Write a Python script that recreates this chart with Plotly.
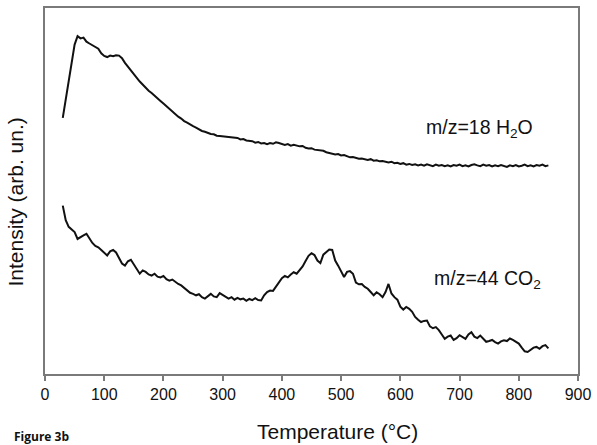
import plotly.graph_objects as go

# Temperature grid (°C) at 5 °C steps
temperature = list(range(30, 855, 5))

# m/z = 18 (H2O) intensity, arbitrary units
h2o = [
    70.0, 75.0, 80.0, 85.0, 90.0, 92.3, 91.7, 91.9, 90.8, 90.3,
    89.9, 89.3, 88.9, 87.6, 86.9, 86.6, 87.0, 86.8, 87.1, 87.0,
    86.3, 85.0, 83.9, 83.0, 81.8, 80.9, 79.9, 79.0, 78.3, 77.4,
    76.8, 76.0, 75.4, 74.6, 73.9, 73.2, 72.4, 71.8, 70.9, 70.3,
    69.8, 69.1, 68.7, 68.1, 67.7, 67.3, 66.8, 66.4, 66.2, 65.8,
    65.6, 65.5, 65.1, 65.0, 64.9, 64.7, 64.8, 64.5, 64.4, 64.5,
    64.1, 64.2, 63.8, 63.7, 63.6, 63.2, 63.4, 63.0, 63.1, 62.8,
    63.1, 62.9, 63.3, 63.1, 62.9, 62.6, 62.8, 62.4, 62.6, 62.3,
    62.2, 62.3, 61.8, 61.6, 61.7, 61.3, 61.2, 60.9, 61.0, 60.6,
    60.4, 60.3, 60.0, 60.1, 59.7, 59.8, 59.4, 59.2, 59.3, 59.0,
    58.8, 58.9, 58.6, 58.5, 58.7, 58.3, 58.4, 58.1, 58.2, 57.9,
    57.8, 58.0, 57.6, 57.7, 57.4, 57.6, 57.2, 57.4, 57.1, 57.3,
    57.0, 57.2, 56.9, 57.3, 57.0, 56.8, 57.2, 56.9, 57.1, 56.8,
    57.0, 56.7, 57.1, 56.9, 57.2, 56.8, 57.0, 56.7, 57.1, 57.3,
    57.0, 56.8, 57.2, 56.9, 57.1, 56.7, 57.0, 56.8, 57.1, 56.9,
    56.6, 57.0, 56.8, 57.1, 56.7, 56.9, 57.2, 56.8, 57.0, 56.7,
    57.1, 56.9, 57.2, 56.8, 57.0,
]

# m/z = 44 (CO2) intensity, arbitrary units
co2 = [
    46.0, 42.0, 40.2, 39.6, 38.8, 36.9, 37.5, 37.9, 38.3, 37.0,
    35.8, 35.0, 34.6, 33.9, 33.2, 32.4, 33.5, 33.9, 33.2, 31.8,
    30.2, 29.6, 30.8, 31.2, 29.8, 28.5, 27.4, 28.3, 27.9, 27.2,
    26.9, 27.4, 26.6, 26.4, 26.8, 25.9, 25.5, 25.8, 25.1, 24.6,
    24.2, 23.5, 22.7, 22.2, 21.9, 21.5, 21.8, 21.0, 20.6, 21.3,
    21.9, 21.2, 21.0, 22.1, 21.6, 20.9, 20.6, 21.0, 20.3, 20.8,
    20.4, 20.6, 20.0, 20.5, 20.2, 20.7, 20.2, 20.1, 21.5, 22.4,
    22.8, 22.7, 23.9, 25.1, 26.2, 26.8, 26.4, 27.2, 27.8, 27.4,
    28.4, 29.4, 30.9, 32.3, 33.0, 32.5, 31.0, 30.3, 32.6, 33.2,
    34.0, 33.9, 31.0, 29.6, 27.8, 26.5, 27.9, 28.1, 27.4, 25.0,
    24.5, 24.6, 23.8, 23.3, 22.4, 21.5, 22.3, 21.8, 21.0, 22.4,
    24.6, 22.0, 21.0, 20.3, 18.4, 17.6, 18.3, 17.8, 17.0, 15.6,
    14.8, 14.2, 14.5, 14.6, 13.0, 12.5, 12.8, 12.0, 10.8, 9.6,
    10.2, 10.5, 9.3, 9.8, 10.6, 10.0, 9.6, 10.8, 11.4, 10.2,
    9.8, 10.5, 9.6, 8.8, 9.0, 9.3, 8.7, 8.3, 8.9, 9.2,
    9.0, 9.7, 9.3, 8.8, 8.3, 7.2, 6.2, 6.0, 6.5, 7.2,
    7.4, 6.9, 7.6, 7.9, 7.0,
]

x_ticks = [0, 100, 200, 300, 400, 500, 600, 700, 800, 900]

FONT = "Liberation Sans, Arial, sans-serif"
INK = "#111111"
FRAME = "#7a7a7a"

fig = go.Figure()
fig.add_trace(go.Scatter(x=temperature, y=h2o, mode="lines",
                         line=dict(color=INK, width=2), name="m/z=18 H2O"))
fig.add_trace(go.Scatter(x=temperature, y=co2, mode="lines",
                         line=dict(color=INK, width=2), name="m/z=44 CO2"))

fig.update_layout(
    width=597, height=445,
    margin=dict(l=45, r=16, t=6, b=71),
    paper_bgcolor="white", plot_bgcolor="white",
    showlegend=False,
    font=dict(family=FONT, color=INK),
    xaxis=dict(
        range=[0, 900], tickmode="array", tickvals=x_ticks,
        ticks="outside", ticklen=5, tickcolor=FRAME, tickwidth=1.5,
        showline=True, linecolor=FRAME, linewidth=2, mirror=True,
        showgrid=False, zeroline=False,
        tickfont=dict(size=16, family=FONT, color=INK),
    ),
    yaxis=dict(
        range=[0, 100], showticklabels=False, ticks="",
        showline=True, linecolor=FRAME, linewidth=2, mirror=True,
        showgrid=False, zeroline=False,
    ),
    annotations=[
        dict(text="m/z=18 H<sub>2</sub>O", x=0.815, y=0.672, xref="paper", yref="paper",
             xanchor="center", yanchor="middle",
             showarrow=False, font=dict(size=19.5, family=FONT, color=INK)),
        dict(text="m/z=44 CO<sub>2</sub>", x=0.83, y=0.258, xref="paper", yref="paper",
             xanchor="center", yanchor="middle",
             showarrow=False, font=dict(size=19.5, family=FONT, color=INK)),
        dict(text="Temperature (°C)", x=0.549, y=-0.158, xref="paper", yref="paper",
             xanchor="center", yanchor="middle",
             showarrow=False, font=dict(size=21, family=FONT, color=INK)),
        dict(text="Intensity (arb. un.)", x=-0.056, y=0.469, xref="paper", yref="paper",
             xanchor="center", yanchor="middle",
             textangle=-90, showarrow=False, font=dict(size=21, family=FONT, color=INK)),
        dict(text="<b>Figure 3b</b>", x=-0.062, y=-0.17, xref="paper", yref="paper",
             xanchor="left", yanchor="middle", showarrow=False,
             font=dict(size=12, family="Open Sans, sans-serif", color=INK)),
    ],
)

fig.write_html("out.html")
